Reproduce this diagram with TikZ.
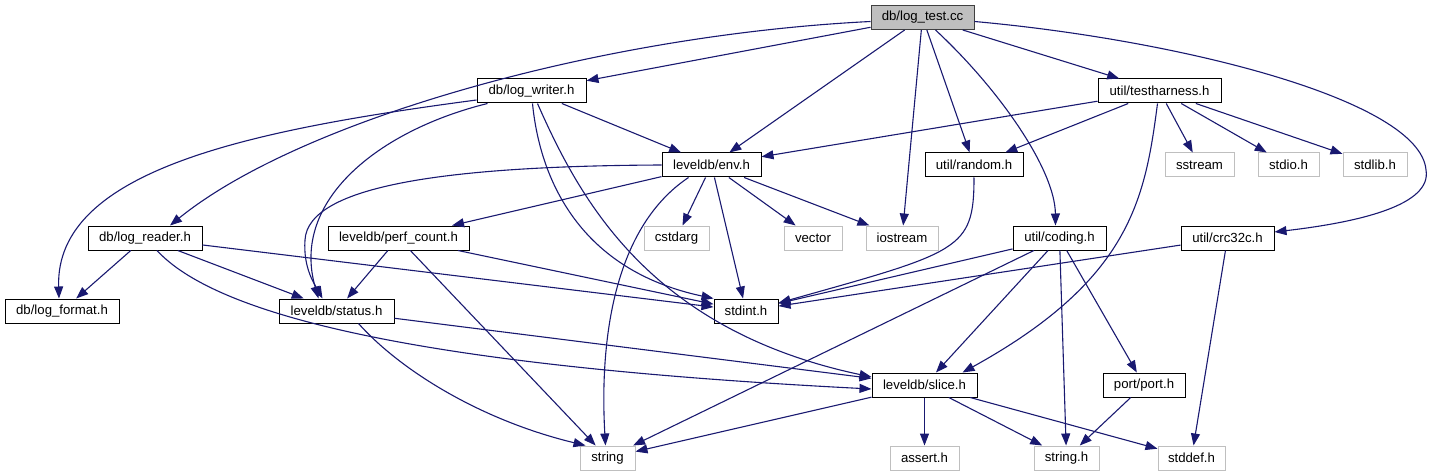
\documentclass[tikz,border=0pt]{standalone}
\usepackage{fontspec}
\setmainfont{Liberation Sans}
\usetikzlibrary{arrows.meta,calc}
\definecolor{edgeblue}{HTML}{191970}
\definecolor{boxgray}{HTML}{BFBFBF}
\definecolor{rootline}{HTML}{404040}

\begin{document}
\begin{tikzpicture}[x=1pt,y=-1pt,
  hdr/.style={draw=black, line width=1pt, minimum height=24pt, inner sep=0pt,
    font=\fontsize{13.2}{15}\selectfont},
  sysbox/.style={hdr, draw=boxgray},
  rootbox/.style={hdr, draw=rootline, fill=boxgray},
  dep/.style={edgeblue, line width=1.1pt, -{Triangle[length=12pt,width=9pt]}}]

  \useasboundingbox (0,0) rectangle (1433,476);

  % Source file
  \node[rootbox, minimum width=103pt] (test) at (922.5,17.5) {db/log\_test.cc};

  % Project headers
  \node[hdr, minimum width=109pt] (writer) at (531.5,91) {db/log\_writer.h};
  \node[hdr, minimum width=123pt] (harness) at (1159.5,91) {util/testharness.h};
  \node[hdr, minimum width=99pt] (env) at (711.5,165) {leveldb/env.h};
  \node[hdr, minimum width=98pt] (random) at (974,165) {util/random.h};
  \node[hdr, minimum width=114pt] (reader) at (145,238) {db/log\_reader.h};
  \node[hdr, minimum width=141pt] (perf) at (398.5,238) {leveldb/perf\_count.h};
  \node[hdr, minimum width=93pt] (coding) at (1059.5,238) {util/coding.h};
  \node[hdr, minimum width=93pt] (crc) at (1227.5,238) {util/crc32c.h};
  \node[hdr, minimum width=114pt] (format) at (62,311) {db/log\_format.h};
  \node[hdr, minimum width=115pt] (status) at (336.5,311) {leveldb/status.h};
  \node[hdr, minimum width=64pt] (stdint) at (746,311) {stdint.h};
  \node[hdr, minimum width=105pt] (slice) at (924.5,385) {leveldb/slice.h};
  \node[hdr, minimum width=82pt] (port) at (1144,385) {port/port.h};

  % System headers
  \node[sysbox, minimum width=69pt] (sstream) at (1199.5,165) {sstream};
  \node[sysbox, minimum width=61pt] (stdio) at (1288.5,165) {stdio.h};
  \node[sysbox, minimum width=64pt] (stdlib) at (1375,165) {stdlib.h};
  \node[sysbox, minimum width=65pt] (cstdarg) at (676.5,238) {cstdarg};
  \node[sysbox, minimum width=58pt] (vector) at (813,238) {vector};
  \node[sysbox, minimum width=72pt] (iostream) at (902,238) {iostream};
  \node[sysbox, minimum width=55pt] (string) at (607.5,458) {string};
  \node[sysbox, minimum width=69pt] (assert) at (924.5,458) {assert.h};
  \node[sysbox, minimum width=65pt] (stringh) at (1066.5,458) {string.h};
  \node[sysbox, minimum width=67pt] (stddef) at (1191.5,458) {stddef.h};

  % Includes of db/log_test.cc
  \draw[dep] (test) -- (writer);
  \draw[dep] (test) -- (env);
  \draw[dep] (test) -- (iostream);
  \draw[dep] (test) -- (random);
  \draw[dep] (test) -- (harness);
  \draw[dep] ([yshift=-4pt]test.west) .. controls (600,35) and (300,120) .. ([xshift=25pt]reader.north);
  \draw[dep] ([xshift=13pt]test.south) .. controls (1000,90) and (1055,170) .. ([xshift=-4pt]coding.north);
  \draw[dep] ([yshift=-4pt]test.east) .. controls (1180,40) and (1420,100) .. (1426,170)
    .. controls (1432,205) and (1360,222) .. ([yshift=6pt]crc.east);

  % Includes of db/log_writer.h
  \draw[dep] (writer) -- (env);
  \draw[dep] ([yshift=-9pt]writer.west) .. controls (250,130) and (55,170) .. ([xshift=-3pt]format.north);
  \draw[dep] ([xshift=-44pt]writer.south) .. controls (380,130) and (290,200) .. ([xshift=-18pt]status.north);
  \draw[dep] ([xshift=1pt]writer.south) .. controls (540,180) and (580,270) .. (stdint.north west);
  \draw[dep] ([xshift=6pt]writer.south) .. controls (580,200) and (650,330) .. ([yshift=8pt]slice.west);

  % Includes of util/testharness.h
  \draw[dep] (harness) -- (env);
  \draw[dep] (harness) -- (random);
  \draw[dep] (harness) -- (sstream);
  \draw[dep] (harness) -- (stdio);
  \draw[dep] (harness) -- (stdlib);
  \draw[dep] ([xshift=-2pt]harness.south) .. controls (1145,200) and (1130,280) .. ([xshift=38pt]slice.north);

  % Includes of leveldb/env.h
  \draw[dep] (env) -- (perf);
  \draw[dep] (env) -- (cstdarg);
  \draw[dep] (env) -- (stdint);
  \draw[dep] (env) -- (vector);
  \draw[dep] (env) -- (iostream);
  \draw[dep] (env.west) .. controls (450,166) and (308,185) .. (305,240)
    .. controls (303,268) and (315,285) .. ([xshift=-14pt]status.north);
  \draw[dep] ([xshift=-23pt]env.south) .. controls (610,230) and (600,350) .. ([xshift=-2pt]string.north);

  % Includes of util/random.h
  \draw[dep] (random.south) .. controls (974,250) and (960,252) .. ([yshift=8pt]stdint.east);

  % Includes of db/log_reader.h
  \draw[dep] (reader) -- (format);
  \draw[dep] (reader) -- (status);
  \draw[dep] (reader) -- (stdint);
  \draw[dep] ([xshift=12pt]reader.south) .. controls (230,330) and (500,370) .. ([yshift=-4pt]slice.west);

  % Includes of leveldb/perf_count.h
  \draw[dep] (perf) -- (status);
  \draw[dep] (perf) -- (stdint);
  \draw[dep] (perf) -- (string);

  % Includes of util/coding.h and util/crc32c.h
  \draw[dep] (coding) -- (stdint);
  \draw[dep] (coding) -- (string);
  \draw[dep] (coding) -- (slice);
  \draw[dep] (coding) -- (stringh);
  \draw[dep] (coding) -- (port);
  \draw[dep] (crc) -- (stdint);
  \draw[dep] (crc) -- (stddef);

  % Includes of leveldb/status.h
  \draw[dep] (status) -- (slice);
  \draw[dep] ([xshift=22pt]status.south) .. controls (400,370) and (480,420) .. ([xshift=-22pt]string.north);

  % Includes of leveldb/slice.h and port/port.h
  \draw[dep] (slice) -- (string);
  \draw[dep] (slice) -- (assert);
  \draw[dep] (slice) -- (stringh);
  \draw[dep] (slice) -- (stddef);
  \draw[dep] (port) -- (stringh);

\end{tikzpicture}
\end{document}
